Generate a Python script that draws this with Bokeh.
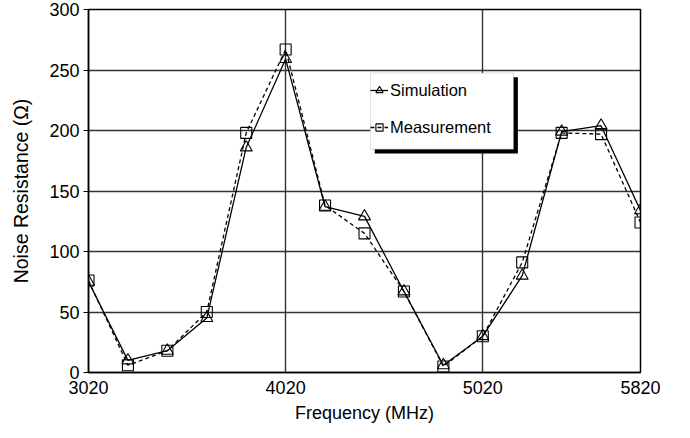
from bokeh.plotting import figure
from bokeh.models import FixedTicker, Legend, LegendItem, BoxAnnotation
from bokeh.embed import file_html
from bokeh.resources import INLINE

# Data (MHz, Ohm)
freq = [3020, 3220, 3420, 3620, 3820, 4020, 4220, 4420, 4620, 4820, 5020, 5220, 5420, 5620, 5820]
simulation = [75, 10, 18, 45, 186, 259, 137, 129, 67, 6, 30, 80, 199, 204, 134]
measurement = [76, 6, 18, 50, 198, 267, 138, 115, 67, 5, 30, 91, 198, 197, 124]
x_ticks = [3020, 4020, 5020, 5820]
y_ticks = [0, 50, 100, 150, 200, 250, 300]

FONT = "Liberation Sans"

p = figure(width=674, height=430, output_backend="svg", toolbar_location=None,
           x_range=(3020, 5820), y_range=(0, 300),
           min_border_left=88, min_border_right=34, min_border_top=9, min_border_bottom=58)
p.background_fill_color = "white"
p.outline_line_color = "black"
p.outline_line_width = 1.5

p.xaxis.ticker = FixedTicker(ticks=x_ticks)
p.yaxis.ticker = FixedTicker(ticks=y_ticks)
p.xgrid.ticker = FixedTicker(ticks=[4020, 5020])
for g in (p.xgrid, p.ygrid):
    g.grid_line_color = "#333333"
    g.grid_line_width = 1.4

for ax in (p.xaxis, p.yaxis):
    ax.axis_line_color = "black"
    ax.axis_line_width = 1.5
    ax.major_label_text_font = FONT
    ax.major_label_text_font_size = "18px"
    ax.major_label_text_color = "black"
    ax.axis_label_text_font = FONT
    ax.axis_label_text_font_style = "normal"
    ax.axis_label_text_color = "black"
    ax.minor_tick_line_color = None

p.xaxis.major_tick_out = 0
p.xaxis.major_tick_in = 0
p.xaxis.major_label_standoff = 8
p.xaxis.axis_label = "Frequency (MHz)"
p.xaxis.axis_label_text_font_size = "18px"
p.xaxis.axis_label_standoff = 6

p.yaxis.major_tick_out = 5
p.yaxis.major_tick_in = 0
p.yaxis.major_tick_line_color = "black"
p.yaxis.major_label_standoff = 4
p.yaxis.axis_label = "Noise Resistance (\u03a9)"
p.yaxis.axis_label_text_font_size = "19.5px"
p.yaxis.axis_label_standoff = 14

sim_line = p.line(freq, simulation, line_color="black", line_width=1.3)
sim_pts = p.scatter(freq, simulation, marker="triangle", size=12,
                    line_color="black", line_width=1.1, fill_color=None)
meas_line = p.line(freq, measurement, line_color="black", line_width=1.3, line_dash="4 3")
meas_pts = p.scatter(freq, measurement, marker="square", size=11,
                     line_color="black", line_width=1.1, fill_color=None)

# legend box with drop shadow
shadow = BoxAnnotation(left=4472, right=5198, bottom=181.0, top=244.0,
                       fill_color="black", fill_alpha=1.0, line_color=None)
box = BoxAnnotation(left=4450, right=5176, bottom=184.5, top=247.5,
                    fill_color="white", fill_alpha=1.0, line_color="#8a8a8a", line_width=1)
p.add_layout(shadow)
p.add_layout(box)

legend = Legend(items=[LegendItem(label="Simulation", renderers=[sim_line, sim_pts]),
                       LegendItem(label="Measurement", renderers=[meas_line, meas_pts])],
                location=(282, 233), padding=6, spacing=13, margin=0,
                glyph_width=18, glyph_height=24, label_height=24, label_standoff=2,
                label_text_font=FONT, label_text_font_size="16.5px", label_text_color="black",
                background_fill_alpha=0, border_line_color=None)
p.add_layout(legend)

open("out.html", "w").write(file_html(p, INLINE))
